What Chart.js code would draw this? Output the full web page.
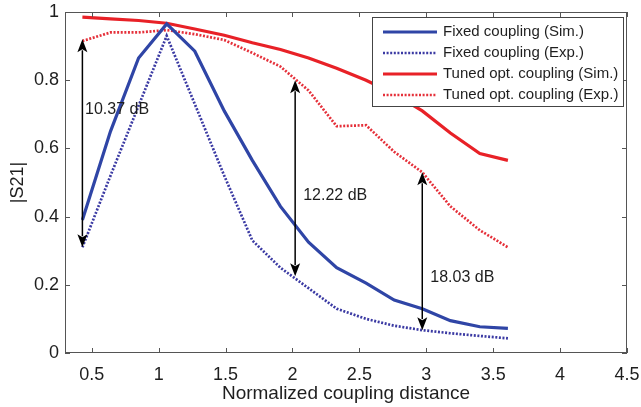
<!DOCTYPE html>
<html>
<head>
<meta charset="utf-8">
<script src="https://cdn.jsdelivr.net/npm/chart.js@4.4.1/dist/chart.umd.min.js"></script>
<style>
  html, body { margin: 0; padding: 0; background: #fff; }
</style>
</head>
<body>
<canvas id="s21Chart" width="641" height="407"></canvas>
<script>
// Sample positions (normalized coupling distance)
const distance = [0.43, 0.64, 0.85, 1.06, 1.27, 1.49, 1.70, 1.91, 2.12, 2.33, 2.55, 2.76, 2.97, 3.18, 3.40, 3.61];

// |S21| per sample
const fixedSim = [0.39, 0.65, 0.865, 0.965, 0.885, 0.71, 0.565, 0.43, 0.325, 0.25, 0.205, 0.155, 0.13, 0.095, 0.077, 0.072];
const fixedExp = [0.31, 0.52, 0.725, 0.93, 0.73, 0.52, 0.33, 0.25, 0.19, 0.13, 0.10, 0.08, 0.067, 0.058, 0.05, 0.043];
const tunedSim = [0.985, 0.98, 0.975, 0.967, 0.95, 0.932, 0.91, 0.89, 0.865, 0.835, 0.80, 0.76, 0.71, 0.645, 0.585, 0.565];
const tunedExp = [0.915, 0.94, 0.94, 0.947, 0.935, 0.918, 0.88, 0.84, 0.77, 0.665, 0.668, 0.59, 0.53, 0.43, 0.36, 0.31];

const seriesLabels = [
  'Fixed coupling (Sim.)',
  'Fixed coupling (Exp.)',
  'Tuned opt. coupling (Sim.)',
  'Tuned opt. coupling (Exp.)'
];

const xTickValues = [0.5, 1, 1.5, 2, 2.5, 3, 3.5, 4, 4.5];
const yTickValues = [0, 0.2, 0.4, 0.6, 0.8, 1];

// Gap arrows between fixed and tuned measurements
const gapX = [0.43, 2.02, 2.97];
const gapLow = [0.31, 0.225, 0.067];
const gapHigh = [0.92, 0.80, 0.53];
const gapText = ['10.37 dB', '12.22 dB', '18.03 dB'];
const gapLabelX = [0.45, 2.08, 3.03];
const gapLabelY = [0.713, 0.463, 0.22];

const BLUE = '#2f45a6';
const BLUE_DOT = '#3b3aa3';
const RED = '#e82127';
const RED_DOT = '#e5303a';
const FRAME = '#555';
const INK = '#1e1e1e';
const FONT = 'Liberation Sans, Arial, sans-serif';

const toPoints = (values) => values.map((v, i) => ({ x: distance[i], y: v }));

const lineStyle = (label, values, color, dotted) => ({
  label,
  data: toPoints(values),
  borderColor: color,
  backgroundColor: color,
  borderWidth: dotted ? 2.7 : 3.2,
  borderDash: dotted ? [2, 1.6] : [],
  pointRadius: 0,
  tension: 0,
  fill: false
});

// Box frame with inward ticks on every side
const framePlugin = {
  id: 'frame',
  afterDatasetsDraw(chart) {
    const { ctx, chartArea: a, scales: { x, y } } = chart;
    const len = 5;
    ctx.save();
    ctx.strokeStyle = FRAME;
    ctx.lineWidth = 1;
    ctx.strokeRect(a.left + 0.5, a.top + 0.5, a.right - a.left - 1, a.bottom - a.top - 1);
    ctx.beginPath();
    xTickValues.forEach((v) => {
      const px = Math.round(x.getPixelForValue(v)) + 0.5;
      ctx.moveTo(px, a.bottom);
      ctx.lineTo(px, a.bottom - len);
      ctx.moveTo(px, a.top);
      ctx.lineTo(px, a.top + len);
    });
    yTickValues.forEach((v) => {
      const py = Math.round(y.getPixelForValue(v)) + 0.5;
      ctx.moveTo(a.left, py);
      ctx.lineTo(a.left + len, py);
      ctx.moveTo(a.right, py);
      ctx.lineTo(a.right - len, py);
    });
    ctx.stroke();
    ctx.restore();
  }
};

// Double-headed arrows with dB labels
const gapPlugin = {
  id: 'gaps',
  afterDatasetsDraw(chart) {
    const { ctx, scales: { x, y } } = chart;
    const head = 13;
    const half = 5;
    ctx.save();
    ctx.strokeStyle = '#000';
    ctx.fillStyle = '#000';
    ctx.lineWidth = 1.5;
    gapX.forEach((gx, i) => {
      const px = x.getPixelForValue(gx);
      const top = y.getPixelForValue(gapHigh[i]);
      const bottom = y.getPixelForValue(gapLow[i]);
      ctx.beginPath();
      ctx.moveTo(px, top + head - 2);
      ctx.lineTo(px, bottom - head + 2);
      ctx.stroke();
      ctx.beginPath();
      ctx.moveTo(px, top);
      ctx.lineTo(px - half, top + head);
      ctx.lineTo(px, top + head - 3);
      ctx.lineTo(px + half, top + head);
      ctx.closePath();
      ctx.fill();
      ctx.beginPath();
      ctx.moveTo(px, bottom);
      ctx.lineTo(px - half, bottom - head);
      ctx.lineTo(px, bottom - head + 3);
      ctx.lineTo(px + half, bottom - head);
      ctx.closePath();
      ctx.fill();
    });
    ctx.fillStyle = INK;
    ctx.font = '16px ' + FONT;
    ctx.textAlign = 'left';
    ctx.textBaseline = 'middle';
    gapText.forEach((text, i) => {
      ctx.fillText(text, x.getPixelForValue(gapLabelX[i]), y.getPixelForValue(gapLabelY[i]));
    });
    ctx.restore();
  }
};

// Boxed legend in the upper right corner of the plot
const legendPlugin = {
  id: 'boxLegend',
  afterDraw(chart) {
    const { ctx, chartArea: a } = chart;
    const right = a.right - 4;
    const left = right - 251;
    const top = a.top + 5;
    const rowH = 21;
    const height = 89;
    ctx.save();
    ctx.fillStyle = '#fff';
    ctx.fillRect(left, top, right - left, height);
    ctx.strokeStyle = '#444';
    ctx.lineWidth = 1;
    ctx.strokeRect(left + 0.5, top + 0.5, right - left, height);
    ctx.font = '15px ' + FONT;
    ctx.textBaseline = 'middle';
    chart.data.datasets.forEach((ds, i) => {
      const cy = top + 15 + i * rowH;
      ctx.strokeStyle = ds.borderColor;
      ctx.lineWidth = ds.borderWidth;
      ctx.setLineDash(ds.borderDash);
      ctx.beginPath();
      ctx.moveTo(left + 11, cy);
      ctx.lineTo(left + 65, cy);
      ctx.stroke();
      ctx.setLineDash([]);
      ctx.fillStyle = INK;
      ctx.fillText(ds.label, left + 71, cy);
    });
    ctx.restore();
  }
};

const tickFont = { family: FONT, size: 18 };
const titleFont = { family: FONT, size: 19 };

new Chart(document.getElementById('s21Chart'), {
  type: 'line',
  data: {
    datasets: [
      lineStyle(seriesLabels[0], fixedSim, BLUE, false),
      lineStyle(seriesLabels[1], fixedExp, BLUE_DOT, true),
      lineStyle(seriesLabels[2], tunedSim, RED, false),
      lineStyle(seriesLabels[3], tunedExp, RED_DOT, true)
    ]
  },
  options: {
    responsive: false,
    animation: false,
    layout: { padding: { left: 7, right: 14, top: 12, bottom: 2 } },
    plugins: {
      legend: { display: false },
      tooltip: { enabled: false }
    },
    scales: {
      x: {
        type: 'linear',
        min: 0.3,
        max: 4.5,
        afterBuildTicks: (scale) => { scale.ticks = xTickValues.map((value) => ({ value })); },
        afterFit: (scale) => {
          scale.height = 52;
          scale.paddingLeft = 0;
          scale.paddingRight = 0;
        },
        grid: { display: false, drawTicks: false },
        border: { display: false },
        ticks: { padding: 11, color: INK, font: tickFont, callback: (v) => String(v) },
        title: {
          display: true,
          text: 'Normalized coupling distance',
          color: INK,
          font: titleFont,
          padding: { top: 0, bottom: 0 }
        }
      },
      y: {
        min: 0,
        max: 1,
        afterBuildTicks: (scale) => { scale.ticks = yTickValues.map((value) => ({ value })); },
        afterFit: (scale) => {
          scale.width = 58;
          scale.paddingTop = 0;
          scale.paddingBottom = 0;
        },
        grid: { display: false, drawTicks: false },
        border: { display: false },
        ticks: { padding: 6, color: INK, font: tickFont, callback: (v) => String(v) },
        title: {
          display: true,
          text: '|S21|',
          color: INK,
          font: tickFont,
          padding: { top: 0, bottom: 0 }
        }
      }
    }
  },
  plugins: [framePlugin, gapPlugin, legendPlugin]
});
</script>
</body>
</html>
